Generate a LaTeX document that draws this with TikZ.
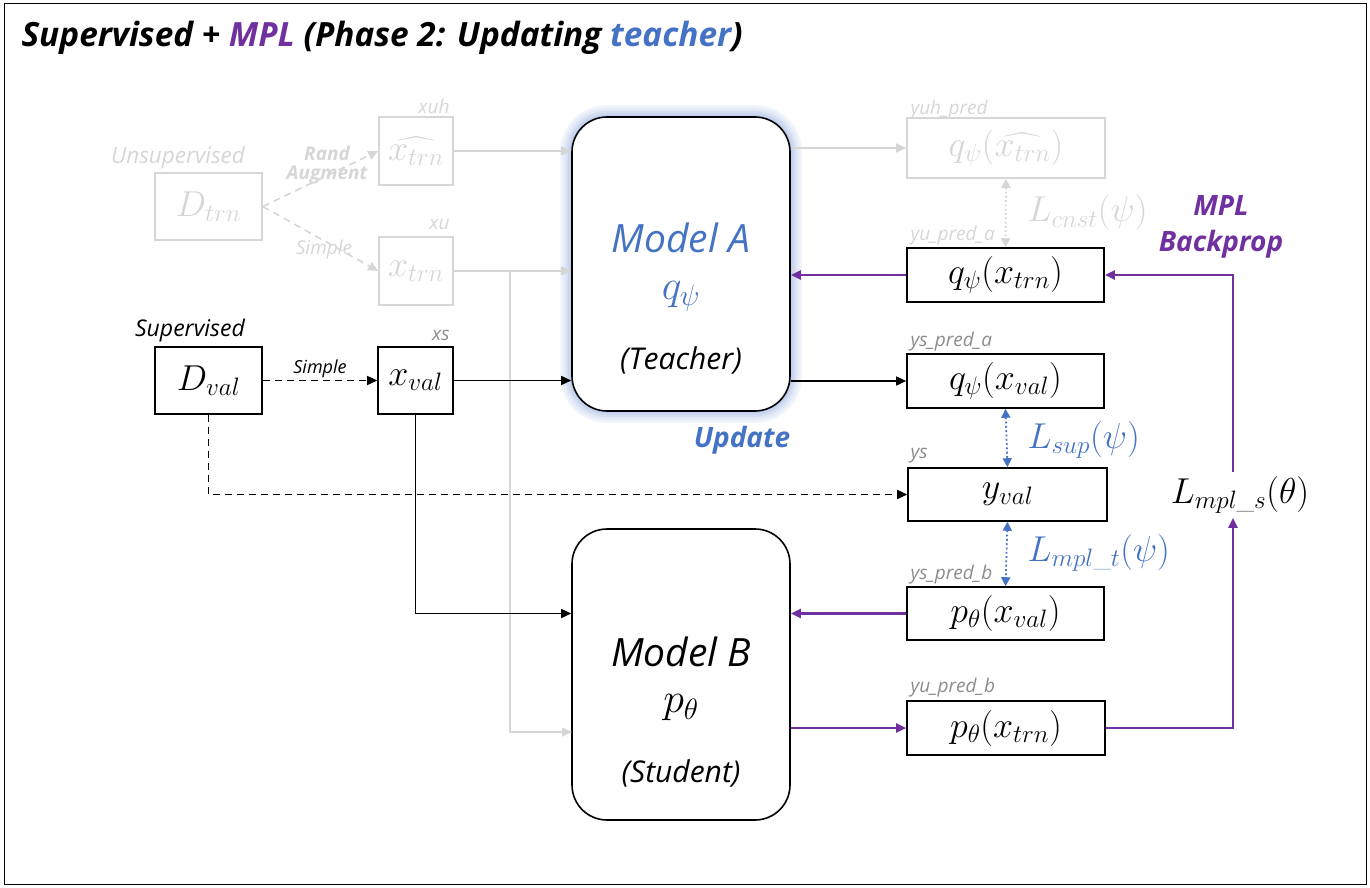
\RequirePackage{fix-cm}
\documentclass[tikz,border=0pt]{standalone}
\usepackage{amsmath}
\usepackage{fontspec}
\setsansfont{Open Sans}
\usetikzlibrary{arrows.meta,calc}
\definecolor{mplpurple}{HTML}{7030A0}
\definecolor{tblue}{HTML}{4472C4}
\definecolor{faded}{HTML}{D6D6D6}
\definecolor{lblgray}{HTML}{8C8C8C}
\newcommand\bigmath{\fontsize{36}{40}\selectfont}
\newcommand\us{\text{\_}}
\begin{document}
\begin{tikzpicture}[x=1pt,y=-1pt,
  every node/.style={font=\sffamily},
  box/.style={draw, line width=1.6pt, fill=white, inner sep=0pt, font=\bigmath},
  fbox/.style={draw=faded, line width=1.6pt, text=faded, inner sep=0pt, font=\bigmath},
  model/.style={draw, line width=1.6pt, rounded corners=35pt, fill=white, minimum width=218pt, inner sep=0pt},
  tip/.style={-{Triangle[length=10pt,width=9pt]}},
  arr/.style={line width=1.6pt, tip},
  farr/.style={line width=1.6pt, faded, tip},
  parr/.style={line width=2.2pt, mplpurple, tip},
  dsh/.style={dash pattern=on 7pt off 5pt},
  darr/.style={line width=1.8pt, dash pattern=on 1.8pt off 2.5pt, {Triangle[length=9pt,width=9pt]}-{Triangle[length=9pt,width=9pt]}},
  small/.style={font=\sffamily\itshape\fontsize{19}{21}\selectfont, text=lblgray},
  fsmall/.style={font=\sffamily\itshape\fontsize{19}{21}\selectfont, text=faded},
]
\useasboundingbox (0,0) rectangle (1370,888);
\draw[line width=1pt] (4,4) rectangle (1366,884);

% title
\node[anchor=west, font=\sffamily\bfseries\itshape\fontsize{33.4}{36}\selectfont] (title) at (18,38)
  {Supervised + \textcolor{mplpurple}{MPL} (Phase 2: Updating \textcolor{tblue}{teacher})};

% glow around model A
\foreach \w/\c in {24/7, 20/11, 16/16, 12/22, 8/28, 4/34} {
  \draw[tblue!\c, line width=\w pt, rounded corners=35pt] (572,117) rectangle (790,411);
}

% models
\node[model, minimum height=294pt] (A) at (681,264) {};
\node[model, minimum height=291pt] (B) at (681,674.5) {};
\node[font=\sffamily\itshape\fontsize{39}{42}\selectfont, text=tblue] (At) at (681,238) {Model A};
\node[font=\fontsize{42}{46}\selectfont, text=tblue] (Aq) at (681,296) {$q_{\psi}$};
\node[font=\sffamily\itshape\fontsize{30}{34}\selectfont] (Ar) at (681,360) {(Teacher)};
\node[font=\sffamily\itshape\fontsize{39}{42}\selectfont] (Bt) at (681,652) {Model B};
\node[font=\fontsize{42}{46}\selectfont] (Bp) at (681,708) {$p_{\theta}$};
\node[font=\sffamily\itshape\fontsize{30}{34}\selectfont] (Br) at (681,773) {(Student)};
\node[font=\sffamily\bfseries\itshape\fontsize{28}{32}\selectfont, text=tblue] (upd) at (742,440) {Update};

% faded (unsupervised) part
\node[fbox, minimum width=107pt, minimum height=67pt] (Dtrn) at (208.5,206.5) {$D_{trn}$};
\node[fsmall, font=\sffamily\itshape\fontsize{22.5}{26}\selectfont] (unsup) at (178,158) {Unsupervised};
\node[fbox, minimum width=74pt, minimum height=68pt] (xh) at (416,151) {$\widehat{x_{trn}}$};
\node[fbox, minimum width=74pt, minimum height=68pt] (xu) at (416,271) {$x_{trn}$};
\node[fsmall, anchor=east] (xuhl) at (453,106) {xuh};
\node[fsmall, anchor=east] (xul) at (453,225) {xu};
\draw[farr, dsh] (Dtrn.east) -- (xh.west);
\draw[farr, dsh] (Dtrn.east) -- (xu.west);
\node[font=\sffamily\bfseries\itshape\fontsize{19}{19}\selectfont, text=faded, align=center, inner sep=0pt] (rand) at (327,165) {Rand\\Augment};
\node[fsmall] (fsimple) at (324,250) {Simple};
\draw[farr] (xh.east) -- (xh.east -| A.west);
\draw[farr] (xu.east) -- (xu.east -| A.west);
\coordinate (br) at (510,271);
\coordinate (bin) at (572,732);
\draw[farr] (br) |- (bin);

\node[fbox, minimum width=198pt, minimum height=60pt] (yuh) at (1006,148) {$q_{\psi}(\widehat{x_{trn}})$};
\node[fsmall, anchor=west] (yuhl) at (907,110) {yuh\_pred};
\draw[farr] (yuh.west -| A.east) -- (yuh.west);

% right boxes
\node[box, minimum width=197pt, minimum height=54pt] (ya) at (1005.5,275) {$q_{\psi}(x_{trn})$};
\node[fsmall, anchor=west] (yal) at (907,236) {yu\_pred\_a};
\node[box, minimum width=197pt, minimum height=54pt] (ysa) at (1005.5,381) {$q_{\psi}(x_{val})$};
\node[small, anchor=west] (ysal) at (907,342) {ys\_pred\_a};
\node[box, minimum width=199pt, minimum height=53pt] (ys) at (1007.5,494.5) {$y_{val}$};
\node[small, anchor=west] (ysl) at (907,456) {ys};
\node[box, minimum width=197pt, minimum height=53pt] (ysb) at (1005.5,613.5) {$p_{\theta}(x_{val})$};
\node[small, anchor=west] (ysbl) at (907,575) {ys\_pred\_b};
\node[box, minimum width=198pt, minimum height=54pt] (yub) at (1006,728) {$p_{\theta}(x_{trn})$};
\node[small, anchor=west] (yubl) at (907,688) {yu\_pred\_b};

% supervised part
\node[box, minimum width=107pt, minimum height=67pt] (Dval) at (208.5,380.5) {$D_{val}$};
\node[font=\sffamily\itshape\fontsize{23}{26}\selectfont] (sup) at (190,331) {Supervised};
\node[box, minimum width=75pt, minimum height=67pt] (xval) at (415.5,380.5) {$x_{val}$};
\node[small, anchor=east] (xsl) at (453,335) {xs};
\draw[arr, dsh] (Dval.east) -- node[above, font=\sffamily\itshape\fontsize{18}{20}\selectfont, inner sep=2pt] {Simple} (xval.west);
\draw[arr] (xval.east) -- (xval.east -| A.west);
\draw[arr, dsh] (Dval.south) |- (ys.west);
\draw[arr] (xval.south) |- (ysb.west -| B.west);

% model outputs
\draw[parr] (ya.west) -- (ya.west -| A.east);
\draw[arr] (ysa.west -| A.east) -- (ysa.west);
\draw[parr] (ysb.west) -- (ysb.west -| B.east);
\draw[parr] (yub.west -| B.east) -- (yub.west);

% losses
\draw[darr, faded] (yuh.south) -- (ya.north);
\node[font=\bigmath, text=faded, anchor=west] (Lc) at (1024,213) {$L_{cnst}(\psi)$};
\draw[darr, tblue] (ysa.south) -- (ys.north);
\node[font=\bigmath, text=tblue, anchor=west] (Ls) at (1024,440) {$L_{sup}(\psi)$};
\draw[darr, tblue] (ys.south) -- (ysb.north);
\node[font=\bigmath, text=tblue, anchor=west] (Lt) at (1024,553) {$L_{mpl\us t}(\psi)$};

\node[font=\bigmath, inner sep=4pt] (L) at (1240,495) {$L_{mpl\us s}(\theta)$};
\draw[parr] (yub.east) -| ([xshift=-7pt]L.south);
\draw[parr] ([xshift=-7pt]L.north) |- (ya.east);
\node[font=\sffamily\bfseries\itshape\fontsize{28}{36}\selectfont, text=mplpurple, align=center] (mplb) at (1221,227) {MPL\\Backprop};
\end{tikzpicture}
\end{document}
